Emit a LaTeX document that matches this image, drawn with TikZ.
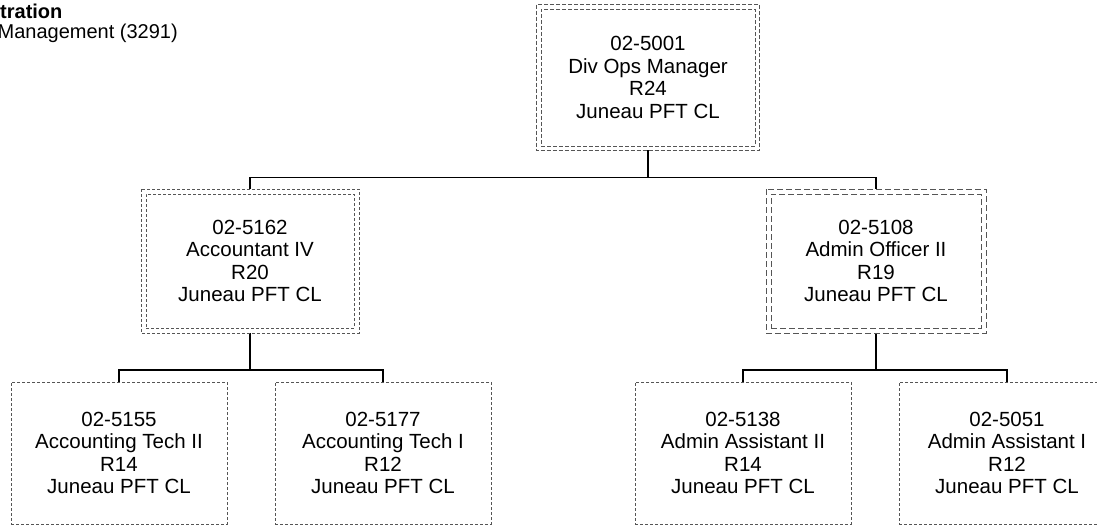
\documentclass[tikz,border=0pt]{standalone}
\usepackage{fontspec}
\setmainfont{Liberation Sans}
\usetikzlibrary{backgrounds}
\definecolor{boxgray}{RGB}{85,85,85}
\begin{document}
\begin{tikzpicture}[x=1pt,y=-1pt,
  postext/.style={align=center, font=\fontsize{20.5}{22.5}\selectfont, inner sep=0pt},
  dbox/.style={postext, draw=boxgray, line width=0.9pt},
  outerframe/.style={draw=boxgray, line width=0.9pt},
  sbox/.style={postext, draw=boxgray, line width=0.9pt, dash pattern=on 3pt off 2pt, minimum width=216pt, minimum height=142pt},
  link/.style={draw=black, line width=1.1pt}]
\useasboundingbox (0,0) rectangle (1097,527);
\clip (0,0) rectangle (1097,527);

\node[font=\fontsize{20}{22}\selectfont\bfseries, anchor=base west, inner sep=0pt] (hdrA) at (0,19) {tration};
\node[font=\fontsize{20}{22}\selectfont, anchor=base east, inner sep=0pt] (hdrB) at (178,39) {Management (3291)};

\node[dbox, dash pattern=on 4pt off 2pt, minimum width=214pt, minimum height=137pt] (top) at (648,77.5)
  {02-5001\\Div Ops Manager\\R24\\Juneau PFT CL};
\draw[outerframe, dash pattern=on 4pt off 2pt] ([shift={(-4pt,4pt)}]top.north west) rectangle ([shift={(4pt,-4pt)}]top.south east);

\node[dbox, dash pattern=on 3pt off 2pt, minimum width=208pt, minimum height=134pt] (m1) at (250,261)
  {02-5162\\Accountant IV\\R20\\Juneau PFT CL};
\draw[outerframe, dash pattern=on 3pt off 2pt] ([shift={(-4.5pt,4.5pt)}]m1.north west) rectangle ([shift={(4.5pt,-4.5pt)}]m1.south east);

\node[dbox, dash pattern=on 6pt off 3pt, minimum width=210pt, minimum height=134pt] (m2) at (876,261)
  {02-5108\\Admin Officer II\\R19\\Juneau PFT CL};
\draw[outerframe, dash pattern=on 6pt off 3pt] ([shift={(-4.5pt,4.5pt)}]m2.north west) rectangle ([shift={(4.5pt,-4.5pt)}]m2.south east);

\node[sbox] (b1) at (119,453) {02-5155\\Accounting Tech II\\R14\\Juneau PFT CL};
\node[sbox] (b2) at (383,453) {02-5177\\Accounting Tech I\\R12\\Juneau PFT CL};
\node[sbox] (b3) at (743,453) {02-5138\\Admin Assistant II\\R14\\Juneau PFT CL};
\node[sbox] (b4) at (1007,453) {02-5051\\Admin Assistant I\\R12\\Juneau PFT CL};

\begin{scope}[on background layer]
\draw[link] ([yshift=-4pt]top.south) -- ++(0,27) coordinate (j1) -| ([yshift=4.5pt]m1.north);
\draw[link] (j1) -| ([yshift=4.5pt]m2.north);
\draw[link] ([yshift=-4.5pt]m1.south) -- ++(0,37) coordinate (j2) -| (b1.north);
\draw[link] (j2) -| (b2.north);
\draw[link] ([yshift=-4.5pt]m2.south) -- ++(0,37) coordinate (j3) -| (b3.north);
\draw[link] (j3) -| (b4.north);
\end{scope}
\end{tikzpicture}
\end{document}
